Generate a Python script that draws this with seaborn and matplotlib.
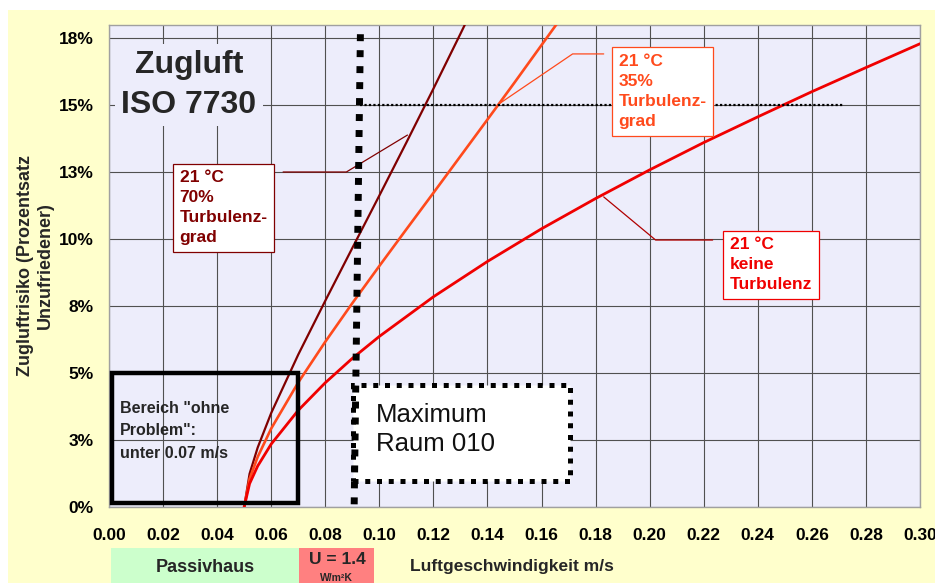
import matplotlib
matplotlib.use("Agg")
import matplotlib.pyplot as plt
import matplotlib.transforms as mtransforms
from matplotlib.patches import Rectangle
import pandas as pd
import seaborn as sns

# Zugluftrisiko (%) über der Luftgeschwindigkeit (m/s), Lufttemperatur 21 °C
v_tu70 = [0.05, 0.052, 0.055, 0.06, 0.07, 0.08, 0.09, 0.10, 0.11, 0.12, 0.13, 0.14]
dr_tu70 = [0.0, 1.24, 2.22, 3.51, 5.69, 7.70, 9.67, 11.63, 13.61, 15.62, 17.67, 19.76]

v_tu35 = [0.05, 0.052, 0.055, 0.06, 0.07, 0.08, 0.09, 0.10, 0.11, 0.12, 0.13,
          0.14, 0.15, 0.16, 0.17]
dr_tu35 = [0.0, 1.05, 1.87, 2.93, 4.65, 6.17, 7.61, 9.00, 10.37, 11.73, 13.10,
           14.47, 15.85, 17.25, 18.65]

v_tu0 = [0.05, 0.052, 0.055, 0.06, 0.07, 0.08, 0.09, 0.10, 0.12, 0.14, 0.16,
         0.18, 0.20, 0.22, 0.24, 0.26, 0.28, 0.30]
dr_tu0 = [0.0, 0.87, 1.53, 2.35, 3.61, 4.64, 5.55, 6.37, 7.85, 9.17, 10.39,
          11.52, 12.59, 13.61, 14.57, 15.51, 16.41, 17.30]

series_names = ["70% Turbulenzgrad", "35% Turbulenzgrad", "keine Turbulenz"]
series_colors = ["#800000", "#FF4A1C", "#F00000"]
series_labels = ["21 °C\n70%\nTurbulenz-\ngrad", "21 °C\n35%\nTurbulenz-\ngrad",
                 "21 °C\nkeine\nTurbulenz"]

x_ticks = [0.00, 0.02, 0.04, 0.06, 0.08, 0.10, 0.12, 0.14, 0.16, 0.18, 0.20,
           0.22, 0.24, 0.26, 0.28, 0.30]
y_ticks = [0, 2.5, 5, 7.5, 10, 12.5, 15, 17.5]
y_tick_labels = ["0%", "3%", "5%", "8%", "10%", "13%", "15%", "18%"]

# Grenzwerte
v_limit_ok = 0.07          # Bereich "ohne Problem"
dr_limit_ok = 5.0
dr_limit_iso = 15.0        # 15 % Unzufriedene
v_max_raum = 0.091         # gemessenes Maximum Raum 010

df = pd.concat([
    pd.DataFrame({"v": v_tu70, "dr": dr_tu70, "serie": series_names[0]}),
    pd.DataFrame({"v": v_tu35, "dr": dr_tu35, "serie": series_names[1]}),
    pd.DataFrame({"v": v_tu0, "dr": dr_tu0, "serie": series_names[2]}),
], ignore_index=True)

sns.set_style("white")
plt.rcParams["font.family"] = ["Liberation Sans", "DejaVu Sans"]

BG_OUT = "#FFFFCC"
BG_PLOT = "#EDEDFB"
GRID = "#505050"
SPINE = "#A0A0A0"

fig = plt.figure(figsize=(9.35, 5.83), dpi=100)
fig.patch.set_facecolor("white")
fig.add_artist(Rectangle((8 / 935, 0), 1, 1 - 10 / 583, transform=fig.transFigure,
                         facecolor=BG_OUT, edgecolor="none", zorder=-10))

ax = fig.add_axes([109 / 935, 76 / 583, 811 / 935, 482 / 583])
ax.set_facecolor(BG_PLOT)
ax.set_xlim(0, 0.30)
ax.set_ylim(0, 18)

sns.lineplot(data=df, x="v", y="dr", hue="serie", hue_order=series_names,
             palette=series_colors, sort=False, estimator=None, legend=False,
             linewidth=1.8, ax=ax, zorder=3)
for line, lw in zip(ax.get_lines(), [1.6, 1.9, 2.0]):
    line.set_linewidth(lw)

ax.set_xticks(x_ticks)
ax.set_xticklabels([f"{t:.2f}" for t in x_ticks])
ax.set_yticks(y_ticks)
ax.set_yticklabels(y_tick_labels)
ax.grid(True, color=GRID, linewidth=0.8)
ax.set_axisbelow(True)
for sp in ax.spines.values():
    sp.set_color(SPINE)
    sp.set_linewidth(1.0)
ax.tick_params(axis="both", direction="out", length=5, width=0.8, color=SPINE,
               labelsize=12.5, labelcolor="black")
ax.tick_params(axis="x", pad=10)
ax.tick_params(axis="y", pad=6)
for lab in ax.get_xticklabels() + ax.get_yticklabels():
    lab.set_fontweight("bold")

ax.set_xlabel("")
ax.set_ylabel("Zugluftrisiko (Prozentsatz\nUnzufriedener)", fontsize=13,
              fontweight="bold", linespacing=1.25)
ax.yaxis.set_label_coords(-0.0675, 0.5)

# Titel im Diagramm
ax.text(0.0296, 15.76, "Zugluft\nISO 7730", ha="center", va="center",
        fontsize=23, fontweight="bold", linespacing=1.42, zorder=5,
        bbox=dict(boxstyle="square,pad=0.2", facecolor=BG_PLOT, edgecolor="none"))

# 15 %-Grenze
ax.plot([0.093, 0.272], [dr_limit_iso, dr_limit_iso], color="black", lw=1.6,
        dashes=(1, 1), dash_capstyle="butt", zorder=4)

# Maximum Raum 010
ax.plot([v_max_raum - 0.0003, v_max_raum + 0.002], [0.1, 17.68], color="black",
        lw=5, dashes=(1, 1.3), dash_capstyle="butt", zorder=6)
ax.add_patch(Rectangle((0.0904, 0.97), 0.080, 3.59, facecolor="white",
                       edgecolor="black", linewidth=3.6, linestyle=(0, (1, 1.35)),
                       zorder=5))
ax.text(0.0989, 2.89, "Maximum\nRaum 010", ha="left", va="center", fontsize=18.5,
        linespacing=1.3, color="#111111", zorder=7)

# Bereich ohne Problem
ax.add_patch(Rectangle((0.001, 0.15), v_limit_ok - 0.001, dr_limit_ok - 0.15,
                       facecolor="none", edgecolor="black", linewidth=3.2, zorder=6))
ax.text(0.0041, 2.84, "Bereich \"ohne\nProblem\":\nunter 0.07 m/s", ha="left",
        va="center", fontsize=11.5, fontweight="bold", linespacing=1.62, zorder=7)

# Beschriftung der Kurven mit Hinweislinien
leaders = [
    ([0.0644, 0.0878, 0.1104], [12.51, 12.51, 13.89], "#800000"),
    ([0.1830, 0.1715, 0.1448], [16.92, 16.92, 15.09], "#FF4A1C"),
    ([0.2233, 0.2022, 0.1830], [9.97, 9.97, 11.58], "#B00000"),
]
for xs, ys, c in leaders:
    ax.plot(xs, ys, color=c, lw=0.9, zorder=4)

label_pos = [(0.0424, 11.17), (0.2048, 15.52), (0.2448, 9.04)]
label_text_colors = ["#800000", "#FF4A1C", "#F00000"]
for (lx, ly), txt, c in zip(label_pos, series_labels, label_text_colors):
    ax.text(lx, ly, txt, ha="center", va="center", multialignment="left",
            fontsize=12.5, fontweight="bold", color=c, linespacing=1.42, zorder=8,
            bbox=dict(boxstyle="square,pad=0.38", facecolor="white", edgecolor=c,
                      linewidth=0.9))

# Felder unter der x-Achse
trans = mtransforms.blended_transform_factory(ax.transData, fig.transFigure)
y0, h = 0.0, 35 / 583
fig.add_artist(Rectangle((0.0007, y0), 0.0697, h, transform=trans,
                         facecolor="#CCFFCC", edgecolor="none", zorder=1))
fig.add_artist(Rectangle((0.0704, y0), 0.0277, h, transform=trans,
                         facecolor="#FF8080", edgecolor="none", zorder=1))
fig.text(0.0355, 15 / 583, "Passivhaus", transform=trans, ha="center", va="center",
         fontsize=13, fontweight="bold", zorder=2)
fig.text(0.0843, 23 / 583, "U = 1.4", transform=trans, ha="center", va="center",
         fontsize=12.5, fontweight="bold", zorder=2)
fig.text(0.0843, 5 / 583, "W/m²K", transform=trans, ha="center", va="center",
         fontsize=7.5, fontweight="bold", zorder=2)
fig.text(410 / 935, 16 / 583, "Luftgeschwindigkeit m/s", ha="left", va="center",
         fontsize=12.5, fontweight="bold")

fig.savefig("out.png", dpi=100)
